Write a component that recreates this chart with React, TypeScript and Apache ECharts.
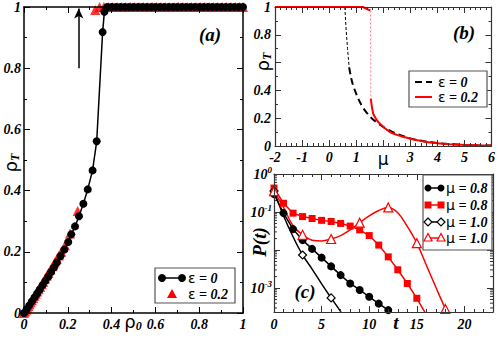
import React, { useEffect, useRef } from 'react';
import * as echarts from 'echarts';

// ---------------- Panel (a): rho_T vs rho_0 ----------------
const aEps0X = [0, 0.012, 0.024, 0.036, 0.048, 0.06, 0.072, 0.085, 0.098, 0.111, 0.124, 0.137, 0.15, 0.167, 0.184, 0.202, 0.216, 0.233, 0.251, 0.271, 0.291, 0.313, 0.332, 0.359, 0.367,
  0.38, 0.4, 0.42, 0.44, 0.46, 0.48, 0.5, 0.52, 0.54, 0.56, 0.58, 0.6, 0.62, 0.64, 0.66, 0.68, 0.7, 0.72, 0.74, 0.76, 0.78, 0.8, 0.82, 0.84, 0.86, 0.88, 0.9, 0.92, 0.94, 0.96, 0.98, 1];
const aEps0Y = [0, 0.012, 0.025, 0.038, 0.051, 0.064, 0.077, 0.091, 0.105, 0.119, 0.134, 0.149, 0.165, 0.186, 0.207, 0.232, 0.257, 0.283, 0.316, 0.357, 0.404, 0.466, 0.561, 0.918, 0.984,
  1, 1, 1, 1, 1, 1, 1, 1, 1, 1, 1, 1, 1, 1, 1, 1, 1, 1, 1, 1, 1, 1, 1, 1, 1, 1, 1, 1, 1, 1, 1, 1];
const aEps02LowX = [0, 0.005, 0.01, 0.015, 0.02, 0.025, 0.03, 0.036, 0.042, 0.048, 0.054, 0.06, 0.067, 0.074, 0.081, 0.088, 0.096, 0.104, 0.112, 0.121, 0.13, 0.14, 0.15, 0.16, 0.17, 0.187, 0.21, 0.245];
const aEps02LowY = [0, 0.005, 0.011, 0.017, 0.023, 0.029, 0.035, 0.042, 0.049, 0.056, 0.063, 0.07, 0.078, 0.086, 0.094, 0.102, 0.112, 0.122, 0.131, 0.142, 0.153, 0.165, 0.177, 0.188, 0.2, 0.221, 0.26, 0.333];
const aEps02HighX = [0.325, 0.345, 0.365, 0.385, 0.405, 0.425, 0.445, 0.465, 0.485, 0.505, 0.525, 0.545, 0.565, 0.585, 0.605, 0.625, 0.645, 0.665, 0.685, 0.705, 0.725, 0.745, 0.765, 0.785, 0.805, 0.825, 0.845, 0.865, 0.885, 0.905, 0.925, 0.945, 0.965, 0.985, 1.0];
const aEps02HighY = [0.99, 1, 1, 1, 1, 1, 1, 1, 1, 1, 1, 1, 1, 1, 1, 1, 1, 1, 1, 1, 1, 1, 1, 1, 1, 1, 1, 1, 1, 1, 1, 1, 1, 1, 1];
const aArrowX = 0.25;
const aArrowY = [0.8, 0.995];

// ---------------- Panel (b): rho_T vs mu ----------------
const bEps0TopX = [-2, 0.58];
const bEps0TopY = [1, 1];
const bEps0DropX = [0.58, 0.62, 0.68, 0.74];
const bEps0DropY = [1, 0.86, 0.7, 0.566];
const bEps0TailX = [0.74, 0.85, 1.0, 1.15, 1.32, 1.6, 2.0, 2.3, 2.61, 3.0, 3.23, 3.5, 3.84, 4.2, 4.46, 5, 5.5, 6];
const bEps0TailY = [0.566, 0.46, 0.376, 0.31, 0.257, 0.195, 0.138, 0.105, 0.079, 0.055, 0.043, 0.034, 0.026, 0.018, 0.014, 0.008, 0.005, 0.003];
const bEps02TopX = [-2, 1.25, 1.4, 1.53];
const bEps02TopY = [1, 1, 0.985, 0.975];
const bEps02DropX = [1.53, 1.54];
const bEps02DropY = [0.975, 0.34];
const bEps02TailX = [1.54, 1.63, 1.75, 1.87, 2.05, 2.24, 2.5, 2.73, 3.0, 3.23, 3.5, 3.84, 4.2, 4.46, 5, 5.5, 6];
const bEps02TailY = [0.34, 0.233, 0.19, 0.162, 0.13, 0.102, 0.08, 0.066, 0.052, 0.043, 0.033, 0.024, 0.017, 0.013, 0.008, 0.005, 0.003];

// ---------------- Panel (c): log10 P(t) vs t ----------------
const cDotsT = [0, 1, 2, 3, 4, 5, 6, 7, 8, 9, 10, 11, 12, 13];
const cDotsLogP = [-0.53, -1.03, -1.45, -1.74, -1.97, -2.2, -2.43, -2.66, -2.88, -3.05, -3.23, -3.41, -3.58, -3.76];
const cSquaresT = [0, 1, 2, 3, 4, 5, 6, 7, 8, 9, 10, 11, 12, 13, 14, 15, 16];
const cSquaresLogP = [-0.37, -0.77, -1.03, -1.12, -1.17, -1.22, -1.25, -1.3, -1.37, -1.47, -1.62, -1.87, -2.18, -2.52, -2.88, -3.27, -3.7];
const cDiamondT = [0, 1, 2, 3, 4, 5, 6, 7, 8];
const cDiamondLogP = [-0.45, -1.1, -1.65, -2.13, -2.5, -2.89, -3.26, -3.62, -4.0];
const cDiamondMarkers = [0, 3, 6];
const cTriT = [0, 1, 2, 3, 4, 5, 6, 7, 8, 9, 10, 11, 12, 13, 14, 15, 16, 17, 18, 19];
const cTriLogP = [-0.45, -0.88, -1.36, -1.6, -1.74, -1.76, -1.71, -1.62, -1.47, -1.28, -1.1, -0.96, -0.88, -1.02, -1.38, -1.82, -2.4, -2.98, -3.55, -4.1];
const cTriMarkers = [0, 3, 6, 9, 12, 15, 18];
const cLogMin = -3.63;
const cTMax = 23;

const FONT = '"Liberation Serif", "DejaVu Serif", serif';
const GREEK = '"DejaVu Sans", "Noto Sans", sans-serif';

const zip = (xs: number[], ys: number[]) => xs.map((x, i) => [x, ys[i]]);

const tickLabel = { fontFamily: FONT, fontStyle: 'italic' as const, fontWeight: 'bold' as const, fontSize: 14, color: '#000' };

function axis(gridIndex: number, position: string, min: number, max: number, interval: number | null,
  minorSplit: number, fmt: any, color: string, lw: number, margin: number, rich?: any) {
  const a: any = {
    type: 'value', gridIndex, position, min, max, z: 5,
    axisLine: { show: true, onZero: false, lineStyle: { color, width: lw } },
    axisTick: { show: true, inside: true, length: 6, lineStyle: { color, width: 1 } },
    minorTick: { show: minorSplit > 0, splitNumber: minorSplit > 0 ? minorSplit : 5, length: 3, lineStyle: { color, width: 1 } },
    splitLine: { show: false },
    minorSplitLine: { show: false },
    axisLabel: fmt ? { show: true, formatter: fmt, margin, ...tickLabel, rich: rich || {} } : { show: false },
  };
  if (interval != null) a.interval = interval;
  return a;
}

const fmtA = (v: number) => (v === 0 ? '0' : v === 1 ? '1' : v.toFixed(1));
const fmtBy = (v: number) => (Math.abs(v - 0.6) < 1e-6 ? '' : fmtA(v));
const fmtB = (v: number) => (v === 2 ? '{mu|μ}' : String(v));
const fmtCx = (v: number) => (v % 5 === 0 ? String(v) : '');
const fmtCy = (v: number) => {
  if (Math.abs(v - Math.round(v)) > 1e-6) return '';
  const k = Math.round(v);
  if (k === -2) return '';
  return '{b|10}{sup|' + k + '}';
};

const richMu = { mu: { fontFamily: GREEK, fontSize: 17, fontStyle: 'normal', fontWeight: 'normal', color: '#000' } };
const richSup = {
  b: { fontFamily: FONT, fontStyle: 'italic', fontWeight: 'bold', fontSize: 14, color: '#000' },
  sup: { fontFamily: FONT, fontStyle: 'italic', fontWeight: 'bold', fontSize: 9, color: '#000', padding: [0, 0, 9, 0] },
};

const txt = (x: number, y: number, text: string, rich: any, extra: any = {}) => ({
  type: 'text', x, y, z: 110, ...extra,
  style: { text, rich, fill: '#000', align: extra.align || 'left', verticalAlign: 'middle', fontFamily: FONT, fontStyle: 'italic', fontWeight: 'bold', fontSize: 14 },
});

const richRhoT = {
  r: { fontFamily: GREEK, fontSize: 18, color: '#000', fontStyle: 'normal', fontWeight: 'normal' },
  s: { fontFamily: FONT, fontSize: 12, fontStyle: 'italic', fontWeight: 'bold', color: '#000', padding: [9, 0, 0, 0] },
};
const richLeg = {
  g: { fontFamily: GREEK, fontSize: 14, fontStyle: 'normal', fontWeight: 'normal', color: '#000' },
  t: { fontFamily: FONT, fontSize: 14, fontStyle: 'italic', fontWeight: 'bold', color: '#000' },
};
const richBig = { p: { fontFamily: FONT, fontSize: 19, fontStyle: 'italic', fontWeight: 'bold', color: '#000' } };

function buildOption() {
  const cMinor: number[][] = [];
  for (let d = -4; d <= -1; d++) {
    for (let k = 2; k <= 9; k++) {
      const v = d + Math.log10(k);
      if (v > cLogMin && v < 0) cMinor.push([0, v]);
    }
  }

  const diamondData = cDiamondT.map((t, i) => (cDiamondMarkers.includes(t)
    ? { value: [t, cDiamondLogP[i]] }
    : { value: [t, cDiamondLogP[i]], symbol: 'none' }));
  const triData = cTriT.map((t, i) => (cTriMarkers.includes(t)
    ? { value: [t, cTriLogP[i]] }
    : { value: [t, cTriLogP[i]], symbol: 'none' }));

  const colA = '#000';
  const colB = '#333';

  const graphic: any[] = [
    // panel (a) texts
    txt(10, 163, '{r|ρ}{s|T}', richRhoT, { rotation: Math.PI / 2, align: 'center' }),
    txt(133, 321, '{r|ρ}{s|0}', richRhoT, { align: 'center' }),
    txt(210, 34, '{p|(a)}', richBig, { align: 'center' }),
    // panel (a) legend
    { type: 'rect', z: 100, shape: { x: 155, y: 268, width: 80, height: 35 }, style: { fill: '#fff', stroke: '#555', lineWidth: 1.2 } },
    { type: 'line', z: 101, shape: { x1: 162, y1: 278, x2: 182, y2: 278 }, style: { stroke: '#000', lineWidth: 1.5 } },
    { type: 'circle', z: 101, shape: { cx: 162, cy: 278, r: 4 }, style: { fill: '#000' } },
    { type: 'circle', z: 101, shape: { cx: 182, cy: 278, r: 4 }, style: { fill: '#000' } },
    { type: 'polygon', z: 101, shape: { points: [[172, 289], [167, 298], [177, 298]] }, style: { fill: '#ff0000' } },
    txt(188, 278, '{g|ε}{t| = 0}', richLeg),
    txt(188, 294, '{g|ε}{t| = 0.2}', richLeg),
    // panel (b)
    txt(262, 62, '{r|ρ}{s|T}', richRhoT, { rotation: Math.PI / 2, align: 'center' }),
    txt(464, 32, '{p|(b)}', richBig, { align: 'center' }),
    { type: 'rect', z: 100, shape: { x: 409, y: 71, width: 78, height: 36 }, style: { fill: '#fff', stroke: '#555', lineWidth: 1.2 } },
    { type: 'line', z: 101, shape: { x1: 415, y1: 82, x2: 432, y2: 82 }, style: { stroke: '#000', lineWidth: 2, lineDash: [7, 4] } },
    { type: 'line', z: 101, shape: { x1: 415, y1: 97, x2: 432, y2: 97 }, style: { stroke: '#ff0000', lineWidth: 2 } },
    txt(438, 82, '{g|ε}{t| = 0}', richLeg),
    txt(438, 97, '{g|ε}{t| = 0.2}', richLeg),
    // panel (c)
    txt(259, 242, '{p|P(t)}', richBig, { rotation: Math.PI / 2, align: 'center' }),
    txt(396, 322, '{p|t}', richBig, { align: 'center' }),
    txt(305, 291, '{p|(c)}', richBig, { align: 'center' }),
    { type: 'rect', z: 100, shape: { x: 423, y: 175, width: 69, height: 75 }, style: { fill: '#fff', stroke: '#555', lineWidth: 1.2 } },
    { type: 'line', z: 101, shape: { x1: 428, y1: 188, x2: 441, y2: 188 }, style: { stroke: '#000', lineWidth: 1.5 } },
    { type: 'circle', z: 102, shape: { cx: 428, cy: 188, r: 3.5 }, style: { fill: '#000' } },
    { type: 'circle', z: 102, shape: { cx: 441, cy: 188, r: 3.5 }, style: { fill: '#000' } },
    { type: 'line', z: 101, shape: { x1: 428, y1: 205, x2: 441, y2: 205 }, style: { stroke: '#ff0000', lineWidth: 1.5 } },
    { type: 'rect', z: 102, shape: { x: 424.5, y: 201.5, width: 7, height: 7 }, style: { fill: '#ff0000' } },
    { type: 'rect', z: 102, shape: { x: 437.5, y: 201.5, width: 7, height: 7 }, style: { fill: '#ff0000' } },
    { type: 'line', z: 101, shape: { x1: 428, y1: 222, x2: 441, y2: 222 }, style: { stroke: '#000', lineWidth: 1.5 } },
    { type: 'polygon', z: 102, shape: { points: [[428, 218], [432, 222], [428, 226], [424, 222]] }, style: { fill: '#fff', stroke: '#000', lineWidth: 1.2 } },
    { type: 'polygon', z: 102, shape: { points: [[441, 218], [445, 222], [441, 226], [437, 222]] }, style: { fill: '#fff', stroke: '#000', lineWidth: 1.2 } },
    { type: 'line', z: 101, shape: { x1: 428, y1: 238, x2: 441, y2: 238 }, style: { stroke: '#ff0000', lineWidth: 1.5 } },
    { type: 'polygon', z: 102, shape: { points: [[428, 233.5], [424, 241], [432, 241]] }, style: { fill: '#fff', stroke: '#ff0000', lineWidth: 1.2 } },
    { type: 'polygon', z: 102, shape: { points: [[441, 233.5], [437, 241], [445, 241]] }, style: { fill: '#fff', stroke: '#ff0000', lineWidth: 1.2 } },
    txt(446, 188, '{g|μ}{t| = 0.8}', richLeg),
    txt(446, 205, '{g|μ}{t| = 0.8}', richLeg),
    txt(446, 222, '{g|μ}{t| = 1.0}', richLeg),
    txt(446, 238, '{g|μ}{t| = 1.0}', richLeg),
  ];

  return {
    animation: false,
    backgroundColor: '#fff',
    grid: [
      { left: 24, top: 6, width: 219, height: 307 },
      { left: 275, top: 6, width: 217, height: 140 },
      { left: 274, top: 174, width: 219, height: 138 },
    ],
    xAxis: [
      axis(0, 'bottom', 0, 1, 0.2, 2, fmtA, colA, 1.5, 4),
      axis(0, 'top', 0, 1, 0.2, 2, null, colA, 1.5, 4),
      axis(1, 'bottom', -2, 6, 1, 5, fmtB, colB, 1.2, 4, richMu),
      axis(1, 'top', -2, 6, 1, 5, null, colB, 1.2, 4),
      axis(2, 'bottom', 0, cTMax, 5, 5, fmtCx, colB, 1.2, 5),
      axis(2, 'top', 0, cTMax, 5, 5, null, colB, 1.2, 5),
    ],
    yAxis: [
      axis(0, 'left', 0, 1, 0.2, 2, fmtA, colA, 1.5, 3),
      axis(0, 'right', 0, 1, 0.2, 2, null, colA, 1.5, 3),
      axis(1, 'left', 0, 1, 0.2, 2, fmtBy, colB, 1.2, 4),
      axis(1, 'right', 0, 1, 0.2, 2, null, colB, 1.2, 4),
      axis(2, 'left', cLogMin, 0, null, 0, fmtCy, colB, 1.2, 2, richSup),
      axis(2, 'right', cLogMin, 0, null, 0, null, colB, 1.2, 2),
    ],
    graphic,
    series: [
      {
        type: 'line', xAxisIndex: 0, yAxisIndex: 0, data: zip(aEps0X, aEps0Y),
        symbol: 'circle', symbolSize: 8, itemStyle: { color: '#000' }, lineStyle: { color: '#000', width: 1.5 },
        markLine: {
          silent: true, symbol: ['none', 'arrow'], symbolSize: [7, 10],
          lineStyle: { color: '#000', width: 1.5, type: 'solid' }, label: { show: false },
          data: [[{ coord: [aArrowX, aArrowY[0]] }, { coord: [aArrowX, aArrowY[1]] }]],
        },
      },
      {
        type: 'scatter', xAxisIndex: 0, yAxisIndex: 0,
        data: [...zip(aEps02LowX, aEps02LowY), ...zip(aEps02HighX, aEps02HighY)],
        symbol: 'triangle', symbolSize: 10, itemStyle: { color: '#ff0000' },
      },
      // panel b
      { type: 'line', xAxisIndex: 2, yAxisIndex: 2, data: zip(bEps0TopX, bEps0TopY), symbol: 'none', lineStyle: { color: '#000', width: 2, type: [7, 4] } },
      { type: 'line', xAxisIndex: 2, yAxisIndex: 2, data: zip(bEps0DropX, bEps0DropY), symbol: 'none', lineStyle: { color: '#000', width: 1, type: [3, 2] } },
      { type: 'line', xAxisIndex: 2, yAxisIndex: 2, data: zip(bEps0TailX, bEps0TailY), symbol: 'none', smooth: 0.3, lineStyle: { color: '#000', width: 2, type: [7, 4] } },
      { type: 'line', xAxisIndex: 2, yAxisIndex: 2, data: zip(bEps02TopX, bEps02TopY), symbol: 'none', lineStyle: { color: '#ff0000', width: 2 } },
      { type: 'line', xAxisIndex: 2, yAxisIndex: 2, data: zip(bEps02DropX, bEps02DropY), symbol: 'none', lineStyle: { color: '#ff8080', width: 1, type: [2, 2] } },
      { type: 'line', xAxisIndex: 2, yAxisIndex: 2, data: zip(bEps02TailX, bEps02TailY), symbol: 'none', smooth: 0.3, lineStyle: { color: '#ff0000', width: 2 } },
      // panel c
      {
        type: 'line', xAxisIndex: 4, yAxisIndex: 4, data: zip(cDotsT, cDotsLogP),
        symbol: 'circle', symbolSize: 8, itemStyle: { color: '#000' }, lineStyle: { color: '#000', width: 1.5 },
      },
      {
        type: 'line', xAxisIndex: 4, yAxisIndex: 4, data: zip(cSquaresT, cSquaresLogP),
        symbol: 'rect', symbolSize: 7, itemStyle: { color: '#ff0000' }, lineStyle: { color: '#ff0000', width: 1.5 },
      },
      {
        type: 'line', xAxisIndex: 4, yAxisIndex: 4, data: diamondData, smooth: 0.4,
        symbol: 'diamond', symbolSize: 8, itemStyle: { color: '#fff', borderColor: '#000', borderWidth: 1.2 },
        lineStyle: { color: '#000', width: 1.5 },
      },
      {
        type: 'line', xAxisIndex: 4, yAxisIndex: 4, data: triData, smooth: 0.4,
        symbol: 'triangle', symbolSize: 9, itemStyle: { color: '#fff', borderColor: '#ff0000', borderWidth: 1.2 },
        lineStyle: { color: '#ff0000', width: 1.5 },
      },
      {
        type: 'custom', xAxisIndex: 4, yAxisIndex: 4, silent: true, data: cMinor, encode: { x: 0, y: 1 },
        renderItem: (_p: any, api: any) => {
          const v = api.value(1);
          const l = api.coord([0, v]);
          const r = api.coord([cTMax, v]);
          return {
            type: 'group', children: [
              { type: 'line', shape: { x1: l[0], y1: l[1], x2: l[0] + 3, y2: l[1] }, style: { stroke: colB, lineWidth: 1 } },
              { type: 'line', shape: { x1: r[0], y1: r[1], x2: r[0] - 3, y2: r[1] }, style: { stroke: colB, lineWidth: 1 } },
            ],
          };
        },
      },
    ],
  };
}

export default function App() {
  const ref = useRef<HTMLDivElement>(null);
  useEffect(() => {
    document.body.style.margin = '0';
    if (!ref.current) return;
    const chart = echarts.init(ref.current, null, { renderer: 'svg' });
    chart.setOption(buildOption() as any);
    return () => chart.dispose();
  }, []);
  return <div ref={ref} style={{ width: 498, height: 337 }} />;
}
